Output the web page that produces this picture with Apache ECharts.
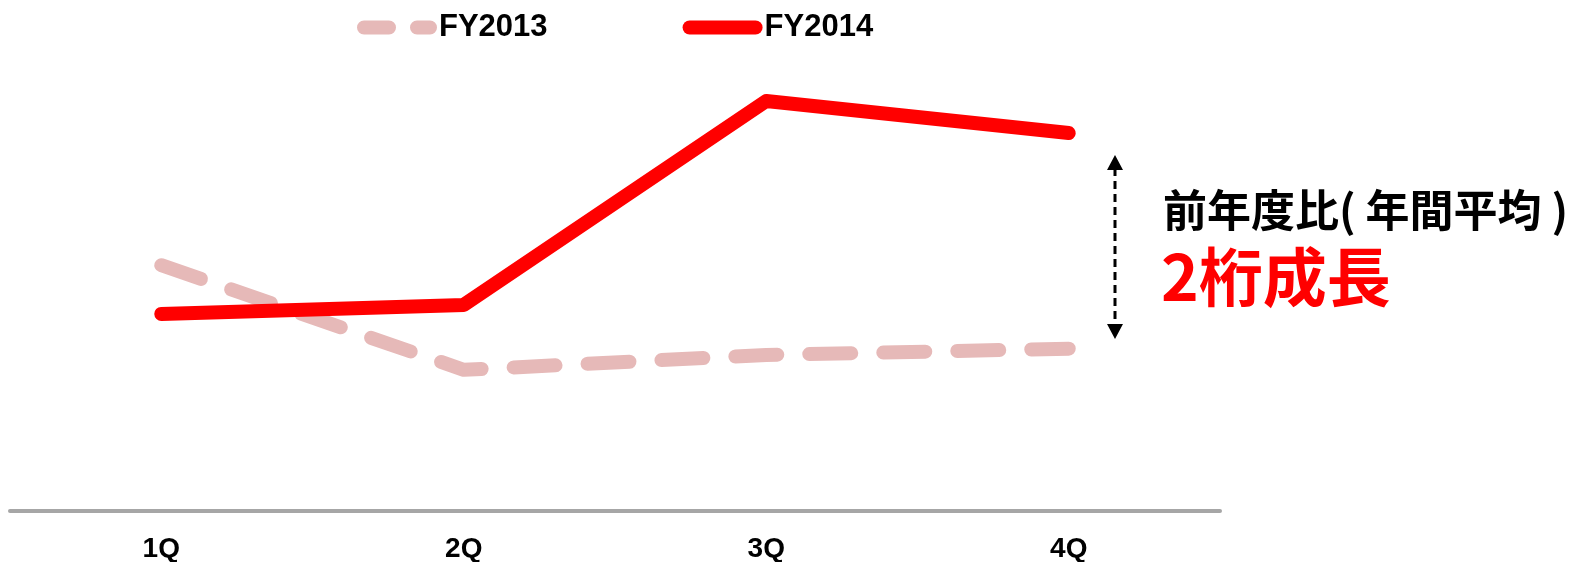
<!DOCTYPE html>
<html>
<head>
<meta charset="utf-8">
<script src="https://cdn.jsdelivr.net/npm/echarts@6/dist/echarts.min.js"></script>
<style>
  html, body { margin: 0; padding: 0; background: #ffffff; }
  #chart { width: 1570px; height: 562px; }
</style>
</head>
<body>
<div id="chart"></div>
<script>
// Quarterly series (relative index values)
const quarters = ['1Q', '2Q', '3Q', '4Q'];
const fy2013 = [54.5, 31.3, 34.6, 36.0];
const fy2014 = [43.7, 45.7, 90.9, 83.8];
const seriesNames = ['FY2013', 'FY2014'];
const noteLine1 = '前年度比( 年間平均 )';
const noteLine2 = '2桁成長';

const latin = '"Liberation Sans", Arial, "Noto Sans CJK JP", sans-serif';
const cjk = '"Noto Sans CJK JP", "Liberation Sans", sans-serif';

// legend keys: rounded capsules imitating the line styles (80 x 14 box)
const dashedKey = 'path://M7,0 H32 A7,7 0 0 1 32,14 H7 A7,7 0 0 1 7,0 Z M60,0 H73 A7,7 0 0 1 73,14 H60 A7,7 0 0 1 60,0 Z';
const solidKey = 'path://M7,0 H73 A7,7 0 0 1 73,14 H7 A7,7 0 0 1 7,0 Z';

const chart = echarts.init(document.getElementById('chart'), null, { renderer: 'canvas' });

chart.setOption({
  animation: false,
  backgroundColor: '#ffffff',
  grid: { left: 10, right: 350, top: 60, bottom: 51, containLabel: false, outerBoundsMode: 'none' },
  legend: {
    data: [
      { name: seriesNames[0], icon: dashedKey },
      { name: seriesNames[1], icon: solidKey }
    ],
    left: 357,
    top: 12,
    padding: 0,
    itemWidth: 80,
    itemHeight: 14,
    itemGap: 135,
    textStyle: { fontFamily: latin, fontWeight: 'bold', fontSize: 31, color: '#000000', padding: [0, 0, 0, -3] }
  },
  xAxis: {
    type: 'category',
    data: quarters,
    boundaryGap: true,
    axisLine: { show: true, lineStyle: { color: '#a6a6a6', width: 4 } },
    axisTick: { show: false },
    splitLine: { show: false },
    axisLabel: { color: '#000000', fontFamily: latin, fontWeight: 'bold', fontSize: 28, margin: 24 }
  },
  yAxis: {
    type: 'value',
    min: 0,
    max: 100,
    show: false,
    splitLine: { show: false }
  },
  series: [
    {
      name: seriesNames[0],
      type: 'line',
      data: fy2013,
      symbol: 'none',
      color: '#e6b9b8',
      lineStyle: { color: '#e6b9b8', width: 14, type: [42, 32], cap: 'round', join: 'round' },
      z: 2
    },
    {
      name: seriesNames[1],
      type: 'line',
      data: fy2014,
      symbol: 'none',
      color: '#ff0000',
      lineStyle: { color: '#ff0000', width: 14, cap: 'round', join: 'round' },
      z: 3
    }
  ],
  graphic: [
    // double-headed dashed arrow
    {
      type: 'line',
      shape: { x1: 1115, y1: 168, x2: 1115, y2: 326 },
      style: { stroke: '#000000', lineWidth: 3, lineDash: [8, 5] }
    },
    {
      type: 'polygon',
      shape: { points: [[1115, 155], [1107, 170], [1123, 170]] },
      style: { fill: '#000000' }
    },
    {
      type: 'polygon',
      shape: { points: [[1115, 339], [1107, 324], [1123, 324]] },
      style: { fill: '#000000' }
    },
    {
      type: 'text',
      left: 1163,
      top: 188,
      style: { text: noteLine1, fontFamily: cjk, fontWeight: 'bold', fontSize: 44, fill: '#000000' }
    },
    {
      type: 'text',
      left: 1161,
      top: 245,
      style: { text: noteLine2, fontFamily: cjk, fontWeight: 'bold', fontSize: 64, fill: '#ff0000' }
    }
  ]
});
</script>
</body>
</html>
